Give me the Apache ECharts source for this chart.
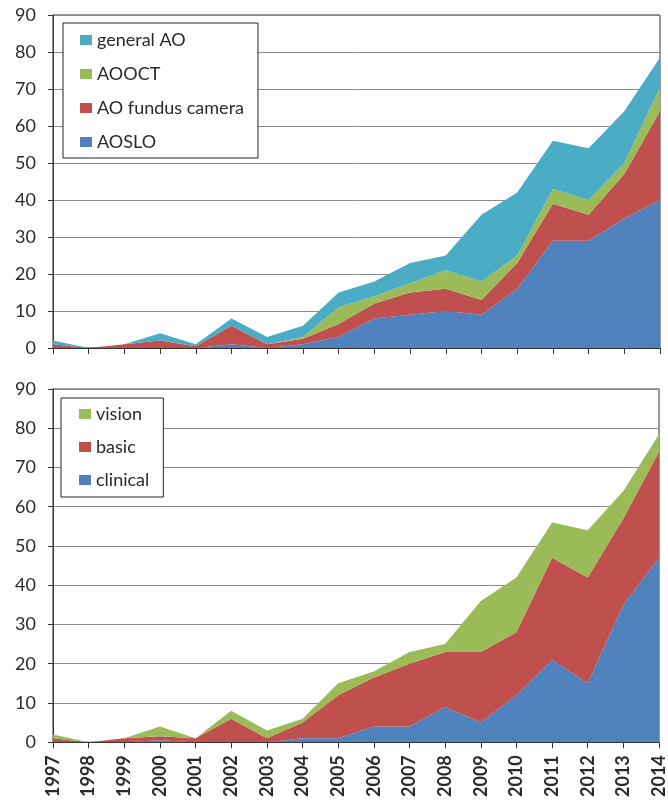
<!DOCTYPE html>
<html>
<head>
<meta charset="utf-8">
<script src="https://cdn.jsdelivr.net/npm/echarts@6/dist/echarts.min.js"></script>
<style>
html,body{margin:0;padding:0;background:#fff;}
#chart{width:668px;height:800px;}
</style>
</head>
<body>
<div id="chart"></div>
<script>
// Categories
var years = ['1997','1998','1999','2000','2001','2002','2003','2004','2005','2006','2007','2008','2009','2010','2011','2012','2013','2014'];

// Top chart (by technology)
var aoslo       = [0, 0, 0, 0,   0,   1, 0, 1,   3,   8, 9,   10, 9,  16, 29, 29, 35, 40];
var aoFundus    = [1, 0, 1, 2,   0.5, 5, 1, 1.5, 3.5, 4, 6,   6,  4,  7,  10, 7,  12, 24];
var aooct       = [0, 0, 0, 0,   0,   0, 0, 0.5, 4.5, 2, 2.5, 5,  5,  2,  4,  4,  3,  6.5];
var generalAO   = [1, 0, 0, 2,   0.5, 2, 2, 3,   4,   4, 5.5, 4,  18, 17, 13, 14, 14, 8];

// Bottom chart (by application)
var clinical = [0, 0, 0, 0.5, 0, 0, 0, 1, 1,  4,    4,  9,  5,  12, 21, 15, 35, 47];
var basic    = [1, 0, 1, 1,   1, 6, 1, 4, 11, 12.5, 16, 14, 18, 16, 26, 27, 22, 27];
var vision   = [1, 0, 0, 2.5, 0, 2, 2, 1, 3,  1.5,  3,  2,  13, 14, 9,  12, 7,  4.5];

// Axis ticks
var yMin = 0, yMax = 90, yStep = 10;

var topLegend = ['general AO', 'AOOCT', 'AO fundus camera', 'AOSLO'];
var bottomLegend = ['vision', 'basic', 'clinical'];

var FONT = 'Lato';
var TXT = '#2a2a2a';

function mkY(idx) {
  return {
    type: 'value', gridIndex: idx, min: yMin, max: yMax, interval: yStep,
    axisLine: {show: true, lineStyle: {color: '#333', width: 1}},
    axisTick: {show: true, length: 5, lineStyle: {color: '#333'}},
    axisLabel: {fontFamily: FONT, fontSize: 18, color: TXT, margin: 17},
    splitLine: {show: true, lineStyle: {color: '#8a8a8a', width: 1}}
  };
}
function mkX(idx, showLabel) {
  return {
    type: 'category', gridIndex: idx, data: years, boundaryGap: false,
    axisLine: {show: true, onZero: false, lineStyle: {color: '#333', width: 1}},
    axisTick: {show: true, length: 6, alignWithLabel: true, interval: 0, lineStyle: {color: '#333'}},
    axisLabel: {show: showLabel, interval: 0, rotate: 90, fontFamily: FONT, fontSize: 18, fontWeight: 'bold', color: TXT, margin: 13},
    splitLine: {show: false}
  };
}
function mkArea(name, data, color, idx, stack) {
  return {
    name: name, type: 'line', stack: stack, data: data,
    xAxisIndex: idx, yAxisIndex: idx,
    showSymbol: false, symbol: 'none',
    lineStyle: {width: 0},
    areaStyle: {color: color, opacity: 1},
    itemStyle: {color: color},
    emphasis: {disabled: true},
    z: 2
  };
}

var chart = echarts.init(document.getElementById('chart'), null, {renderer: 'canvas'});
chart.setOption({
  animation: false,
  backgroundColor: '#fff',
  grid: [
    {left: 53, top: 15, width: 607, height: 333, show: true, borderColor: '#333', borderWidth: 1, backgroundColor: 'transparent'},
    {left: 53, top: 389, width: 607, height: 355, show: true, borderColor: '#333', borderWidth: 1, backgroundColor: 'transparent'}
  ],
  xAxis: [mkX(0, false), mkX(1, true)],
  yAxis: [mkY(0), mkY(1)],
  legend: [
    {
      data: topLegend, orient: 'vertical', left: 63, top: 23,
      padding: [7, 14, 6, 17], itemGap: 14, itemWidth: 12, itemHeight: 10,
      icon: 'rect', borderColor: '#222', borderWidth: 1, backgroundColor: '#fff',
      selectedMode: false,
      textStyle: {fontFamily: FONT, fontSize: 18, color: TXT, lineHeight: 20}
    },
    {
      data: bottomLegend, orient: 'vertical', left: 61, top: 398,
      padding: [6, 14, 7, 18], itemGap: 13, itemWidth: 12, itemHeight: 10,
      icon: 'rect', borderColor: '#222', borderWidth: 1, backgroundColor: '#fff',
      selectedMode: false,
      textStyle: {fontFamily: FONT, fontSize: 18, color: TXT, lineHeight: 20}
    }
  ],
  series: [
    mkArea('AOSLO', aoslo, '#4F81BD', 0, 'top'),
    mkArea('AO fundus camera', aoFundus, '#C0504D', 0, 'top'),
    mkArea('AOOCT', aooct, '#9BBB59', 0, 'top'),
    mkArea('general AO', generalAO, '#4BACC6', 0, 'top'),
    mkArea('clinical', clinical, '#4F81BD', 1, 'bottom'),
    mkArea('basic', basic, '#C0504D', 1, 'bottom'),
    mkArea('vision', vision, '#9BBB59', 1, 'bottom')
  ]
});
</script>
</body>
</html>
